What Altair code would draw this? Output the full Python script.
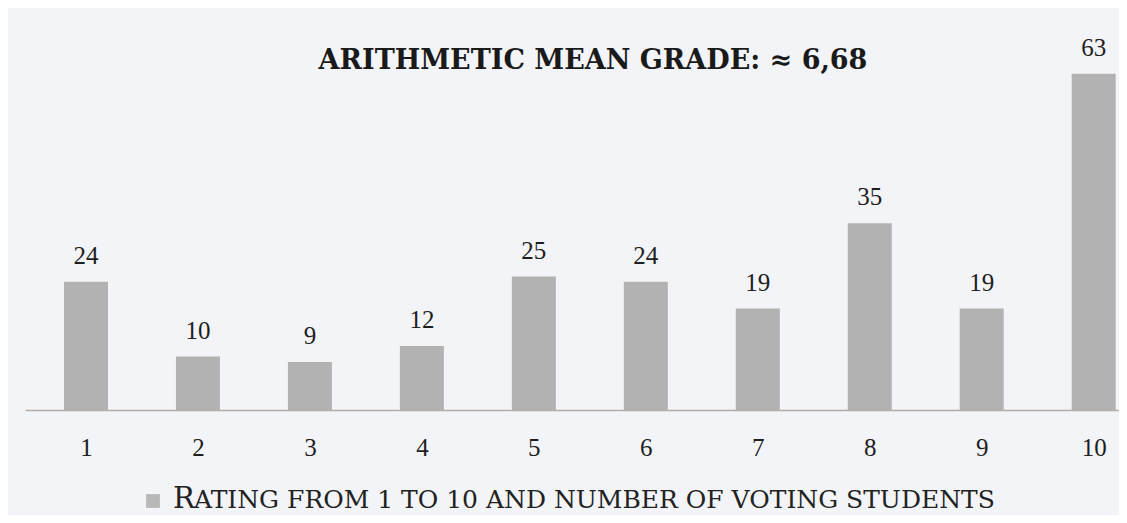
import altair as alt
import pandas as pd

grades = [1, 2, 3, 4, 5, 6, 7, 8, 9, 10]
students = [24, 10, 9, 12, 25, 24, 19, 35, 19, 63]
title_text = ["ARITHMETIC MEAN GRADE: \u2248 6,68"]
legend_first = ["R"]
legend_rest = ["ATING FROM 1 TO 10 AND NUMBER OF VOTING STUDENTS"]

BG = "#f2f4f7"
BAR = "#b3b2b3"
SERIF = "DejaVu Serif"
NUM = "Liberation Serif"

W = 1094
STEP = 113.0

df = pd.DataFrame({"grade": grades, "students": students})

x = alt.X(
    "grade:Q",
    scale=alt.Scale(domain=[0.5, 0.5 + W / STEP], nice=False, zero=False),
    axis=alt.Axis(
        values=grades, format="d", title=None, grid=False, ticks=False, tickSize=0,
        domainColor="#b9aca8", domainWidth=1.5,
        labelFont=NUM, labelFontSize=25, labelColor="#1e1e1e",
        labelBaseline="alphabetic", labelPadding=45, labelFlush=False,
        labelOverlap=False,
    ),
)
y = alt.Y("students:Q", scale=alt.Scale(domain=[0, 75.3], nice=False), axis=None)

base = alt.Chart(df)
bars = base.mark_bar(width=44, color=BAR).encode(x=x, y=y)
labels = base.mark_text(
    font=NUM, fontSize=25, color="#1e1e1e", baseline="alphabetic", dy=-18
).encode(x=x, y=y, text="students:Q")

title = alt.Chart(pd.DataFrame({"t": title_text})).mark_text(
    font=SERIF, fontSize=27, fontWeight="bold", color="#1a1a1a",
    baseline="alphabetic", align="center"
).encode(x=alt.value(568), y=alt.value(61), text="t:N")

leg_sq = alt.Chart(pd.DataFrame({"t": title_text})).mark_square(
    size=190, color="#b8b8b8", opacity=1
).encode(x=alt.value(128), y=alt.value(493))

leg_r = alt.Chart(pd.DataFrame({"t": legend_first})).mark_text(
    font=SERIF, fontSize=29, color="#222222", baseline="alphabetic", align="left"
).encode(x=alt.value(148), y=alt.value(500), text="t:N")

leg_rest = alt.Chart(pd.DataFrame({"t": legend_rest})).mark_text(
    font=SERIF, fontSize=25, color="#222222", baseline="alphabetic", align="left"
).encode(x=alt.value(169), y=alt.value(500), text="t:N")

chart = (
    alt.layer(bars, labels, title, leg_sq, leg_r, leg_rest)
    .properties(
        width=W, height=402, autosize="none",
        padding={"left": 17, "top": 0, "right": 0, "bottom": 105},
        background=BG,
    )
    .configure_view(stroke=None)
)

chart.save("out.html", embed_options={"renderer": "svg", "actions": False})
